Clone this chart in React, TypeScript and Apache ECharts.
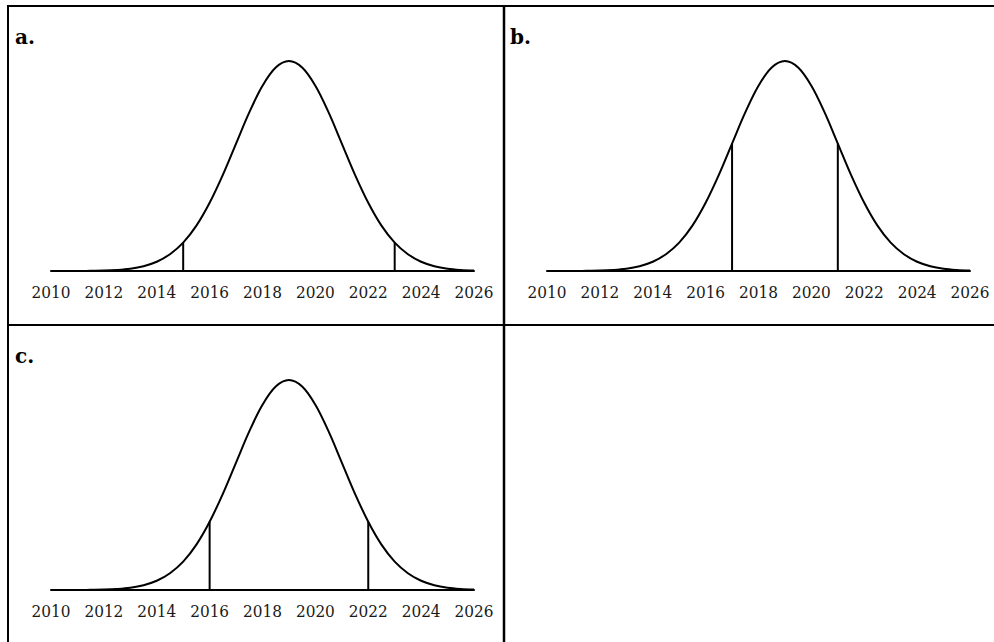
import React, { useEffect, useRef } from "react";
import * as echarts from "echarts";

// x positions (years) at half-year steps
const years: number[] = [
  2010, 2010.5, 2011, 2011.5, 2012, 2012.5, 2013, 2013.5, 2014, 2014.5, 2015, 2015.5,
  2016, 2016.5, 2017, 2017.5, 2018, 2018.5, 2019, 2019.5, 2020, 2020.5, 2021, 2021.5,
  2022, 2022.5, 2023, 2023.5, 2024, 2024.5, 2025, 2025.5, 2026,
];
// curve heights (peak = 100)
const curve: number[] = [
  0, 0, 0, 0.1, 0.2, 0.5, 1.1, 2.3, 4.4, 8.0, 13.5, 21.6,
  32.5, 45.8, 60.7, 75.5, 88.2, 96.9, 100, 96.9, 88.2, 75.5, 60.7, 45.8,
  32.5, 21.6, 13.5, 8.0, 4.4, 2.3, 1.1, 0.5, 0.2,
];
const tickYears: number[] = [2010, 2012, 2014, 2016, 2018, 2020, 2022, 2024, 2026];
const panelLabels: string[] = ["a.", "b.", "c."];
const cutoffs: number[][] = [
  [2015, 2023],
  [2017, 2021],
  [2016, 2022],
];

const gridPos = [
  { left: 51, top: 61 },
  { left: 547, top: 61 },
  { left: 51, top: 380 },
];
const labelPos = [
  { x: 15, y: 27 },
  { x: 510, y: 27 },
  { x: 15, y: 346 },
];

function heightAt(yr: number): number {
  const i = years.indexOf(yr);
  return i >= 0 ? curve[i] : 0;
}

export default function App() {
  const ref = useRef<HTMLDivElement>(null);
  useEffect(() => {
    if (!ref.current) return;
    const chart = echarts.init(ref.current, undefined, { renderer: "svg" });
    const grids: any[] = [];
    const xAxes: any[] = [];
    const yAxes: any[] = [];
    const series: any[] = [];
    const pts = years.map((y, i) => [y, curve[i]]);
    gridPos.forEach((g, p) => {
      grids.push({ left: g.left, top: g.top, width: 423, height: 210 });
      xAxes.push({
        type: "value",
        gridIndex: p,
        min: 2010,
        max: 2026,
        interval: 2,
        axisLine: { show: true, lineStyle: { color: "#000", width: 2 } },
        axisTick: { show: false },
        splitLine: { show: false },
        axisLabel: {
          margin: 12,
          color: "#1a1a1a",
          fontFamily: "'DejaVu Serif Condensed', 'DejaVu Serif'",
          fontSize: 17,
          formatter: (v: number) => (tickYears.includes(v) ? String(v) : ""),
        },
      });
      yAxes.push({
        type: "value",
        gridIndex: p,
        min: 0,
        max: 100,
        show: false,
      });
      series.push({
        type: "line",
        xAxisIndex: p,
        yAxisIndex: p,
        data: pts,
        smooth: 0.35,
        showSymbol: false,
        symbol: "none",
        lineStyle: { color: "#000", width: 2 },
        silent: true,
      });
      cutoffs[p].forEach((c) => {
        series.push({
          type: "line",
          xAxisIndex: p,
          yAxisIndex: p,
          data: [
            [c, 0],
            [c, heightAt(c)],
          ],
          showSymbol: false,
          symbol: "none",
          lineStyle: { color: "#000", width: 2 },
          silent: true,
        });
      });
    });

    const lineStyle = { stroke: "#000", lineWidth: 2 };
    const graphic: any[] = [
      { type: "line", shape: { x1: 7, y1: 6, x2: 994, y2: 6 }, style: lineStyle },
      { type: "line", shape: { x1: 8, y1: 5, x2: 8, y2: 642 }, style: lineStyle },
      { type: "line", shape: { x1: 504, y1: 5, x2: 504, y2: 642 }, style: { stroke: "#000", lineWidth: 2.5 } },
      { type: "line", shape: { x1: 7, y1: 325, x2: 994, y2: 325 }, style: lineStyle },
    ];
    panelLabels.forEach((t, i) => {
      graphic.push({
        type: "text",
        x: labelPos[i].x,
        y: labelPos[i].y,
        style: {
          text: t,
          fill: "#000",
          font: "bold 20px 'DejaVu Serif'",
          textVerticalAlign: "top",
        },
      });
    });

    chart.setOption({
      animation: false,
      backgroundColor: "#fff",
      grid: grids,
      xAxis: xAxes,
      yAxis: yAxes,
      series,
      graphic,
    });
    return () => chart.dispose();
  }, []);
  return (
    <div
      ref={ref}
      style={{ position: "absolute", left: 0, top: 0, width: 994, height: 642 }}
    />
  );
}
